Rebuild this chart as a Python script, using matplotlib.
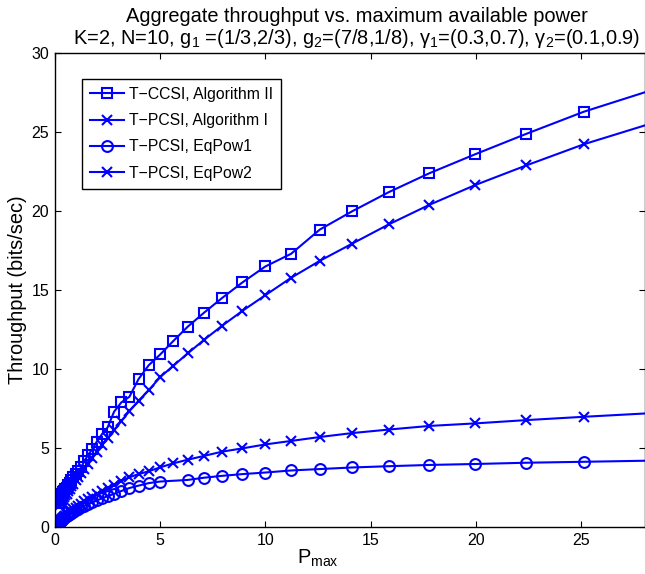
import matplotlib
matplotlib.use("Agg")
import matplotlib.pyplot as plt

plt.rcParams['font.family'] = ['Liberation Sans', 'DejaVu Sans']
plt.rcParams['mathtext.fontset'] = 'custom'
plt.rcParams['mathtext.rm'] = 'Liberation Sans'
plt.rcParams['mathtext.it'] = 'Liberation Sans'
plt.rcParams['mathtext.default'] = 'regular'

# Maximum available power (x axis)
p_max = [0.200, 0.224, 0.251, 0.282, 0.316, 0.355, 0.398, 0.447, 0.501, 0.562,
         0.631, 0.708, 0.794, 0.891, 1.000, 1.122, 1.259, 1.413, 1.585, 1.778,
         1.995, 2.239, 2.512, 2.818, 3.162, 3.548, 3.981, 4.467, 5.012, 5.623,
         6.310, 7.079, 7.943, 8.913, 10.00, 11.22, 12.59, 14.13, 15.85, 17.78,
         19.95, 22.39, 25.12, 28.18]

t_ccsi_alg2 = [1.55, 1.70, 1.80, 1.90, 2.00, 2.10, 2.20, 2.30, 2.40, 2.50,
               2.65, 2.80, 2.95, 3.15, 3.35, 3.55, 3.78, 4.18, 4.56, 4.92,
               5.40, 5.87, 6.31, 7.30, 7.89, 8.25, 9.37, 10.25, 10.93, 11.77,
               12.68, 13.56, 14.50, 15.49, 16.50, 17.30, 18.84, 20.00, 21.20, 22.40,
               23.60, 24.90, 26.30, 27.60]

t_pcsi_alg1 = [1.35, 1.42, 1.50, 1.58, 1.65, 1.72, 1.80, 1.90, 2.00, 2.12,
               2.25, 2.40, 2.57, 2.75, 2.95, 3.17, 3.42, 3.70, 3.99, 4.35,
               4.77, 5.19, 5.61, 6.14, 6.70, 7.34, 8.00, 8.67, 9.50, 10.20,
               10.99, 11.84, 12.74, 13.69, 14.68, 15.78, 16.86, 17.95, 19.16, 20.40,
               21.65, 22.90, 24.24, 25.50]

t_pcsi_eqpow1 = [0.27, 0.30, 0.33, 0.37, 0.41, 0.45, 0.50, 0.55, 0.61, 0.67,
                 0.74, 0.81, 0.89, 0.97, 1.05, 1.14, 1.24, 1.34, 1.45, 1.56,
                 1.68, 1.81, 1.95, 2.10, 2.28, 2.47, 2.62, 2.78, 2.88, None,
                 2.98, 3.12, 3.24, 3.35, 3.45, 3.58, 3.67, 3.77, 3.85, 3.93,
                 3.99, 4.07, 4.13, 4.20]

t_pcsi_eqpow2 = [0.30, 0.33, 0.37, 0.41, 0.45, 0.50, 0.56, 0.62, 0.69, 0.76,
                 0.84, 0.93, 1.02, 1.12, 1.23, 1.35, 1.48, 1.62, 1.77, 1.93,
                 2.10, 2.27, 2.45, 2.66, 2.93, 3.15, 3.35, 3.53, 3.78, 4.03,
                 4.26, 4.50, 4.77, 4.98, 5.23, 5.45, 5.70, 5.95, 6.17, 6.40,
                 6.56, 6.77, 6.98, 7.20]

labels = ['T\u2212CCSI, Algorithm II', 'T\u2212PCSI, Algorithm I',
          'T\u2212PCSI, EqPow1', 'T\u2212PCSI, EqPow2']
x_ticks = [0, 5, 10, 15, 20, 25]
y_ticks = [0, 5, 10, 15, 20, 25, 30]

W, H = 645, 574
fig = plt.figure(figsize=(W / 100, H / 100), dpi=100)
left, right, top, bottom = 54.7, 644.5, 53.3, 527.0
ax = fig.add_axes([left / W, 1 - bottom / H, (right - left) / W, (bottom - top) / H])

blue = '#0000FF'
common = dict(color=blue, lw=1.5, mfc='none', mec=blue, mew=1.5, clip_on=True)

eq1_x = [x for x, v in zip(p_max, t_pcsi_eqpow1) if v is not None]
eq1_y = [v for v in t_pcsi_eqpow1 if v is not None]

def inside(xs):
    return [i for i, x in enumerate(xs) if x <= 28]

ax.plot(p_max, t_ccsi_alg2, marker='s', ms=6.8, markevery=inside(p_max), label=labels[0], **common)
ax.plot(p_max, t_pcsi_alg1, marker='x', ms=7, markevery=inside(p_max), label=labels[1], **common)
ax.plot(eq1_x, eq1_y, marker='o', ms=7.8, markevery=inside(eq1_x), label=labels[2], **common)
ax.plot(p_max, t_pcsi_eqpow2, marker='x', ms=7, markevery=inside(p_max), label=labels[3], **common)

ax.set_xlim(0, 28)
ax.set_ylim(0, 30)
ax.set_xticks(x_ticks)
ax.set_yticks(y_ticks)
ax.tick_params(direction='in', top=True, right=True, length=4, width=0.8,
               labelsize=11.5, pad=4)
for s in ax.spines.values():
    s.set_linewidth(1.0)

ax.set_ylabel('Throughput (bits/sec)', fontsize=14.4, labelpad=3)
ax.set_xlabel('P$_{max}$', fontsize=14.4, labelpad=0)
ax.xaxis.set_label_coords((318 - left) / (right - left), -0.035, transform=None) if False else None
ax.xaxis.label.set_x((318 - left) / (right - left))

leg = ax.legend(loc='upper left', bbox_to_anchor=((81.7 - left) / (right - left), (bottom - 79) / (bottom - top)),
                borderaxespad=0, fontsize=11.3, handlelength=2.2, handletextpad=0.3,
                labelspacing=0.72, borderpad=0.5, fancybox=False, framealpha=1,
                edgecolor='black')
leg.get_frame().set_linewidth(1.0)

fig.text(357 / W, 1 - 22 / H, 'Aggregate throughput vs. maximum available power',
         ha='center', va='baseline', fontsize=14.4)
fig.text(357 / W, 1 - 44 / H,
         'K=2, N=10, g$_1$ =(1/3,2/3), g$_2$=(7/8,1/8), \u03b3$_1$=(0.3,0.7), \u03b3$_2$=(0.1,0.9)',
         ha='center', va='baseline', fontsize=14.4)

fig.savefig('out.png', dpi=100)
